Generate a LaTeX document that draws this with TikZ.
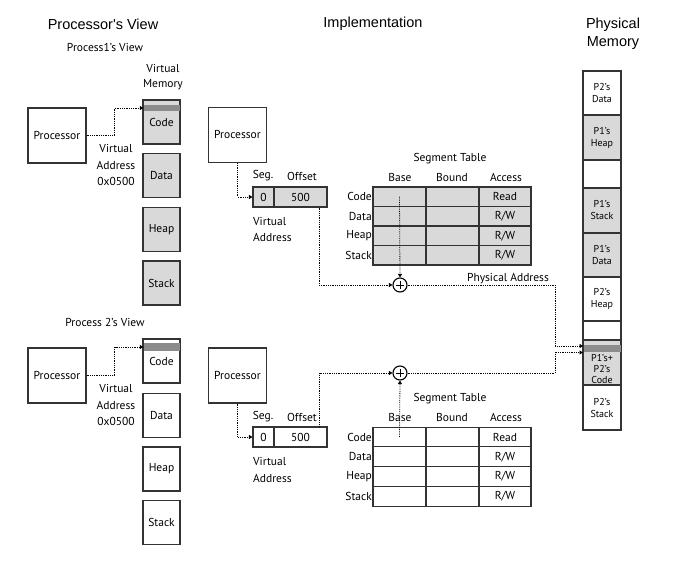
\documentclass[tikz,border=0pt]{standalone}
\usepackage{fontspec}
\setmainfont{PT Sans}
\newfontfamily\headfont{Liberation Sans}
\usetikzlibrary{arrows.meta}

\tikzset{
  headtxt/.style={font=\headfont\fontsize{14.5}{18}\selectfont,align=center,inner sep=1pt},
  txt/.style={font=\fontsize{11.5}{16.5}\selectfont,inner sep=1pt},
  procbox/.style={shape=rectangle,draw=black!80,line width=1.1pt,minimum width=58pt,minimum height=55pt,inner sep=0pt,font=\fontsize{11.5}{12}\selectfont},
  vmseg/.style={shape=rectangle,draw=black!80,line width=1.1pt,minimum width=37pt,minimum height=44pt,inner sep=0pt,font=\fontsize{11.5}{12}\selectfont},
  band/.style={shape=rectangle,fill=mem_dark,minimum width=36pt,inner sep=0pt},
  cell/.style={shape=rectangle,draw=black!80,line width=1.1pt,inner sep=0pt,font=\fontsize{11.5}{12}\selectfont},
  pmseg/.style={shape=rectangle,draw=black!80,line width=1.1pt,minimum width=38pt,inner sep=0pt,align=center,font=\fontsize{10}{12}\selectfont},
  adder/.style={shape=circle,draw=black,line width=1.1pt,minimum size=14pt,inner sep=0pt},
  conn/.style={densely dotted,line width=0.8pt,-{Triangle[length=3.5pt,width=4pt]}}
}

\begin{document}
\begin{tikzpicture}[x=1pt,y=-1pt]
    \definecolor{mem_grey}{RGB}{217,217,217}
    \definecolor{mem_dark}{RGB}{140,140,140}
    \useasboundingbox (0,0) rectangle (678,572);
    % headings
    \node[headtxt] (hview) at (103,24) {Processor's View};
    \node[headtxt] (himpl) at (373,24) {Implementation};
    \node[headtxt] (hphys) at (613,34) {Physical\\Memory};
    % process 1, processor's view
    \node[txt] (pAtitle) at (105,47) {Process1's View};
    \node[txt,align=center,font=\fontsize{11.5}{15}\selectfont] (vmlabel) at (163,77.5) {Virtual\\Memory};
    \node[vmseg,fill=mem_grey] (vmAcode)  at (161.5,122)   {Code};
    \node[band,minimum height=6pt] (vmAband) at (161.5,108) {};
    \node[vmseg,fill=mem_grey] (vmAdata)  at (161.5,175.5) {Data};
    \node[vmseg,fill=mem_grey] (vmAheap)  at (161.5,229.5) {Heap};
    \node[vmseg,fill=mem_grey] (vmAstack) at (161.5,283)   {Stack};
    \node[procbox] (procA) at (57,135.5) {Processor};
    \node[txt,align=center] (vaA) at (116,165) {Virtual\\Address\\0x0500};
    \draw[conn] (procA.east) -- ++(28,0) |- (vmAband.west);
    % process 2, processor's view
    \node[txt] (pBtitle) at (105,322) {Process 2's View};
    \node[vmseg,fill=white] (vmBcode)  at (161.5,361)   {Code};
    \node[band,minimum height=8pt] (vmBband) at (161.5,347) {};
    \node[vmseg,fill=white] (vmBdata)  at (161.5,415.5) {Data};
    \node[vmseg,fill=white] (vmBheap)  at (161.5,469)   {Heap};
    \node[vmseg,fill=white] (vmBstack) at (161.5,522.5) {Stack};
    \node[procbox] (procB) at (57,375.5) {Processor};
    \node[txt,align=center] (vaB) at (116,405) {Virtual\\Address\\0x0500};
    \draw[conn] (procB.east) -- ++(28,0) |- (vmBband.west);
    % physical memory
    \node[pmseg,minimum height=44pt,fill=white]    (pm1) at (602,93)    {P2's\\Data};
    \node[pmseg,minimum height=45pt,fill=mem_grey] (pm2) at (602,137.5) {P1's\\Heap};
    \node[pmseg,minimum height=28pt,fill=white]    (pm3) at (602,174)   {};
    \node[pmseg,minimum height=45pt,fill=mem_grey] (pm4) at (602,210.5) {P1's\\Stack};
    \node[pmseg,minimum height=44pt,fill=mem_grey] (pm5) at (602,255)   {P1's\\Data};
    \node[pmseg,minimum height=44pt,fill=white]    (pm6) at (602,299)   {P2's\\Heap};
    \node[pmseg,minimum height=19pt,fill=white]    (pm7) at (602,330.5) {};
    \node[pmseg,minimum height=45pt,fill=mem_grey] (pm8) at (602,362.5) {};
    \node[band,minimum width=37pt,minimum height=7pt] (pmband) at (602,348.5) {};
    \node[align=center,inner sep=0pt,font=\fontsize{10}{10.5}\selectfont] (pm8txt) at (602,369) {P1's+\\P2's\\Code};
    \node[pmseg,minimum height=45pt,fill=white]    (pm9) at (602,407.5) {P2's\\Stack};
    \coordinate (inA) at (583,346);
    \coordinate (inB) at (583,352.5);
    % implementation, process 1
    \node[procbox] (implA) at (237.5,135) {Processor};
    \node[txt] (segAl) at (263,176) {Seg.};
    \node[txt] (offAl) at (302,176) {Offset};
    \node[cell,fill=mem_grey,minimum width=21pt,minimum height=20pt] (segA0) at (263.5,197) {0};
    \node[cell,fill=mem_grey,minimum width=53pt,minimum height=20pt] (segA1) at (300.5,197) {500};
    \node[txt,align=left,anchor=west] (vaAl) at (252,229.5) {Virtual\\Address};
    \node[txt] (stA) at (450,159) {Segment Table};
    \node[txt] (baseAh)  at (400,177) {Base};
    \node[txt] (boundAh) at (452,177) {Bound};
    \node[txt] (accAh)   at (506,177) {Access};
    \node[txt,anchor=east] (codeAl)  at (373,196.75) {Code};
    \node[txt,anchor=east] (dataAl)  at (373,216.25) {Data};
    \node[txt,anchor=east] (heapAl)  at (373,235.75) {Heap};
    \node[txt,anchor=east] (stackAl) at (373,255.25) {Stack};
    \node[cell,fill=mem_grey,minimum width=53pt,minimum height=19.5pt] (codeAbase)   at (399.5,196.75) {};
    \node[cell,fill=mem_grey,minimum width=53pt,minimum height=19.5pt] (codeAbound)  at (452.5,196.75) {};
    \node[cell,fill=mem_grey,minimum width=52pt,minimum height=19.5pt] (codeAacc)    at (505,196.75)   {Read};
    \node[cell,fill=mem_grey,minimum width=53pt,minimum height=19.5pt] (dataAbase)   at (399.5,216.25) {};
    \node[cell,fill=mem_grey,minimum width=53pt,minimum height=19.5pt] (dataAbound)  at (452.5,216.25) {};
    \node[cell,fill=mem_grey,minimum width=52pt,minimum height=19.5pt] (dataAacc)    at (505,216.25)   {R/W};
    \node[cell,fill=mem_grey,minimum width=53pt,minimum height=19.5pt] (heapAbase)   at (399.5,235.75) {};
    \node[cell,fill=mem_grey,minimum width=53pt,minimum height=19.5pt] (heapAbound)  at (452.5,235.75) {};
    \node[cell,fill=mem_grey,minimum width=52pt,minimum height=19.5pt] (heapAacc)    at (505,235.75)   {R/W};
    \node[cell,fill=mem_grey,minimum width=53pt,minimum height=19.5pt] (stackAbase)  at (399.5,255.25) {};
    \node[cell,fill=mem_grey,minimum width=53pt,minimum height=19.5pt] (stackAbound) at (452.5,255.25) {};
    \node[cell,fill=mem_grey,minimum width=52pt,minimum height=19.5pt] (stackAacc)   at (505,255.25)   {R/W};
    \node[adder] (addA) at (400,285) {};
    \draw[line width=0.9pt] (addA.center) +(-4,0) -- +(4,0) (addA.center) +(0,-4) -- +(0,4);
    \node[txt] (paddr) at (508,279) {Physical Address};
    \draw[conn] (implA.south) |- (segA0.west);
    \draw[conn] ([xshift=18.5pt]segA1.south) |- (addA.west);
    \draw[conn] (codeAbase.center) -- (addA.north);
    \draw[conn] (addA.east) -| ([xshift=-28pt]inA) -- (inA);
    % implementation, process 2
    \node[procbox] (implB) at (237.5,375.5) {Processor};
    \node[txt] (segBl) at (263,417) {Seg.};
    \node[txt] (offBl) at (302,417) {Offset};
    \node[cell,fill=white,minimum width=21pt,minimum height=20pt] (segB0) at (263.5,437) {0};
    \node[cell,fill=white,minimum width=53pt,minimum height=20pt] (segB1) at (300.5,437) {500};
    \node[txt,align=left,anchor=west] (vaBl) at (252,470) {Virtual\\Address};
    \node[txt] (stB) at (450,399) {Segment Table};
    \node[txt,anchor=east] (codeBl)  at (373,437)    {Code};
    \node[txt,anchor=east] (dataBl)  at (373,456.75) {Data};
    \node[txt,anchor=east] (heapBl)  at (373,476.5)  {Heap};
    \node[txt,anchor=east] (stackBl) at (373,496.25) {Stack};
    \node[cell,fill=white,minimum width=53pt,minimum height=19.75pt] (codeBbase)   at (399.5,437) {};
    \node[cell,fill=white,minimum width=53pt,minimum height=19.75pt] (codeBbound)  at (452.5,437) {};
    \node[cell,fill=white,minimum width=52pt,minimum height=19.75pt] (codeBacc)    at (505,437)   {Read};
    \node[cell,fill=white,minimum width=53pt,minimum height=19.75pt] (dataBbase)   at (399.5,456.75) {};
    \node[cell,fill=white,minimum width=53pt,minimum height=19.75pt] (dataBbound)  at (452.5,456.75) {};
    \node[cell,fill=white,minimum width=52pt,minimum height=19.75pt] (dataBacc)    at (505,456.75)   {R/W};
    \node[cell,fill=white,minimum width=53pt,minimum height=19.75pt] (heapBbase)   at (399.5,476.5) {};
    \node[cell,fill=white,minimum width=53pt,minimum height=19.75pt] (heapBbound)  at (452.5,476.5) {};
    \node[cell,fill=white,minimum width=52pt,minimum height=19.75pt] (heapBacc)    at (505,476.5)   {R/W};
    \node[cell,fill=white,minimum width=53pt,minimum height=19.75pt] (stackBbase)  at (399.5,496.25) {};
    \node[cell,fill=white,minimum width=53pt,minimum height=19.75pt] (stackBbound) at (452.5,496.25) {};
    \node[cell,fill=white,minimum width=52pt,minimum height=19.75pt] (stackBacc)   at (505,496.25)   {R/W};
    \node[txt] (baseBh)  at (400,417) {Base};
    \node[txt] (boundBh) at (452,417) {Bound};
    \node[txt] (accBh)   at (506,417) {Access};
    \node[adder] (addB) at (400,373) {};
    \draw[line width=0.9pt] (addB.center) +(-4,0) -- +(4,0) (addB.center) +(0,-4) -- +(0,4);
    \draw[conn] (implB.south) |- (segB0.west);
    \draw[conn] ([xshift=18.5pt]segB1.north) |- (addB.west);
    \draw[conn] (codeBbase.center) -- (addB.south);
    \draw[conn] (addB.east) -| ([xshift=-28pt]inB) -- (inB);
\end{tikzpicture}
\end{document}
